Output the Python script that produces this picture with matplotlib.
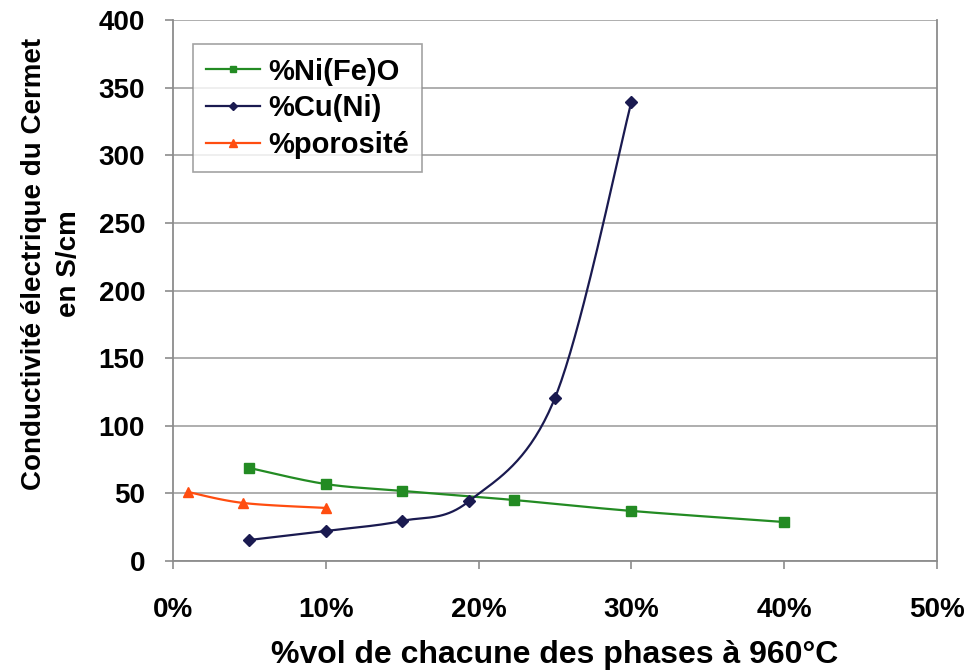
import numpy as np
import matplotlib.pyplot as plt
from matplotlib.ticker import FuncFormatter

plt.rcParams['font.family'] = ['Liberation Sans', 'DejaVu Sans']
plt.rcParams['font.weight'] = 'bold'

# données
x_nife = [5, 10, 15, 22.3, 30, 40]
y_nife = [68.8, 56.9, 51.8, 45.1, 37.0, 28.8]
x_cuni = [5, 10, 15, 19.4, 25, 30]
y_cuni = [15.5, 22.2, 29.6, 44.4, 120.5, 339.4]
x_poro = [1, 4.6, 10]
y_poro = [51.0, 42.9, 39.2]
labels = ["%Ni(Fe)O", "%Cu(Ni)", "%porosité"]


def smooth(x, y, sx=50.0, sy=400.0, ratio=0.7, n=40):
    """courbe lissée façon Excel (Bézier, tension 1/6)"""
    p = np.column_stack([np.asarray(x) / sx, np.asarray(y) / sy * ratio])
    out = [p[0]]
    for i in range(len(p) - 1):
        p0 = p[i - 1] if i > 0 else p[i]
        p3 = p[i + 2] if i + 2 < len(p) else p[i + 1]
        c1 = p[i] + (p[i + 1] - p0) / 6
        c2 = p[i + 1] - (p3 - p[i]) / 6
        t = np.linspace(0, 1, n)[1:, None]
        seg = ((1 - t) ** 3 * p[i] + 3 * (1 - t) ** 2 * t * c1
               + 3 * (1 - t) * t ** 2 * c2 + t ** 3 * p[i + 1])
        out.extend(seg)
    out = np.array(out)
    return out[:, 0] * sx, out[:, 1] / ratio * sy


fig = plt.figure(figsize=(9.71, 6.71), dpi=100)
ax = fig.add_axes([0.178, 0.164, 0.787, 0.806])

series = [
    (x_nife, y_nife, '#238B23', 's', 6.5),
    (x_cuni, y_cuni, '#1A1A50', 'D', 6),
    (x_poro, y_poro, '#FF4D10', '^', 7.5),
]
for (xs, ys, c, m, ms), lab in zip(series, labels):
    sx, sy = smooth(xs, ys)
    ax.plot(sx, sy, color=c, lw=1.6, zorder=3)
    ax.plot(xs, ys, linestyle='none', marker=m, color=c, ms=ms, zorder=4)
    ax.plot([], [], color=c, lw=1.6, marker=m, ms=ms - 1.5, label=lab)

ax.set_xlim(0, 50)
ax.set_ylim(0, 400)
ax.set_xticks(np.arange(0, 51, 10))
ax.set_yticks(np.arange(0, 401, 50))
ax.xaxis.set_major_formatter(FuncFormatter(lambda v, p: f"{v:.0f}%"))
ax.grid(axis='y', color='#A8A8A8', lw=1.3)
ax.set_axisbelow(True)
for s in ['left', 'bottom', 'right']:
    ax.spines[s].set_color('#8C8C8C')
    ax.spines[s].set_linewidth(1.3)
ax.spines['top'].set_visible(False)
ax.tick_params(axis='both', labelsize=20, colors='#8C8C8C', labelcolor='black',
               length=6, width=1.2)
ax.tick_params(axis='x', pad=20)
ax.tick_params(axis='y', pad=14)

ax.set_xlabel("%vol de chacune des phases à 960°C", fontsize=23,
              fontweight='bold')
ax.xaxis.set_label_coords(0.5, -0.146)
ax.set_ylabel("Conductivité électrique du Cermet\nen S/cm", fontsize=20,
              fontweight='bold', linespacing=1.45)
ax.yaxis.set_label_coords(-0.119, 0.55)

leg = ax.legend(loc='upper left', bbox_to_anchor=(0.026, 0.955), fontsize=21,
                frameon=True, fancybox=False, edgecolor='#8C8C8C',
                handlelength=1.85, handletextpad=0.3, borderpad=0.45,
                labelspacing=0.3, borderaxespad=0)
leg.get_frame().set_linewidth(1.2)

fig.savefig("out.png", dpi=100)
